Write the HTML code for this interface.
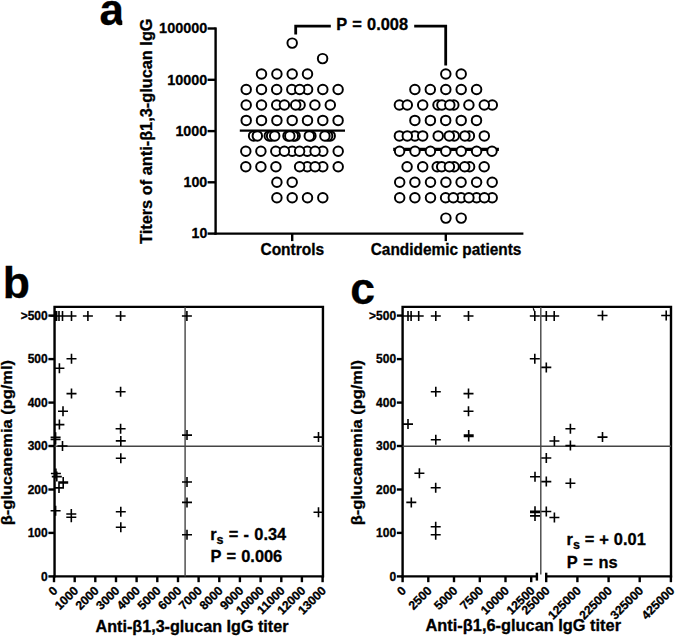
<!DOCTYPE html>
<html><head><meta charset="utf-8"><title>Figure</title>
<style>
html,body{margin:0;padding:0;background:#fff;}
body{width:675px;height:637px;overflow:hidden;}
svg{display:block;}
text{font-family:"Liberation Sans",sans-serif;font-weight:bold;fill:#000;stroke:#000;stroke-width:0.3px;}
</style></head><body>
<svg width="675" height="637" viewBox="0 0 675 637">
<rect width="675" height="637" fill="#fff"/>
<!-- panel a -->
<text x="99.5" y="25" font-size="44" stroke="none">a</text>
<rect x="122.3" y="14" width="5" height="13" fill="#fff"/>
<g stroke="#000" stroke-width="2.4" fill="none" stroke-linecap="butt">
<path d="M215.6 27.4 V234.7"/>
<path d="M214.5 233.6 H523.4"/>
<path d="M207.6 233.6 H215.6"/>
<path d="M207.6 182.3 H215.6"/>
<path d="M207.6 131.1 H215.6"/>
<path d="M207.6 79.8 H215.6"/>
<path d="M207.6 28.5 H215.6"/>
<path d="M292.2 233.6 V241.1"/>
<path d="M445.8 233.6 V241.1"/>
</g>
<text x="207.3" y="238.3" font-size="15.4" text-anchor="end" textLength="15.7" lengthAdjust="spacingAndGlyphs">10</text>
<text x="207.3" y="187.0" font-size="15.4" text-anchor="end" textLength="23.8" lengthAdjust="spacingAndGlyphs">100</text>
<text x="207.3" y="135.8" font-size="15.4" text-anchor="end" textLength="31.9" lengthAdjust="spacingAndGlyphs">1000</text>
<text x="207.3" y="84.5" font-size="15.4" text-anchor="end" textLength="40.1" lengthAdjust="spacingAndGlyphs">10000</text>
<text x="207.3" y="33.2" font-size="15.4" text-anchor="end" textLength="48.2" lengthAdjust="spacingAndGlyphs">100000</text>
<text transform="translate(152.2 131.2) rotate(-90)" font-size="16" text-anchor="middle" textLength="225.5" lengthAdjust="spacingAndGlyphs">Titers of anti-β1,3-glucan IgG</text>
<text x="292.35" y="254.7" font-size="15.7" text-anchor="middle" textLength="63.8" lengthAdjust="spacingAndGlyphs">Controls</text>
<text x="446.05" y="254.7" font-size="15.7" text-anchor="middle" textLength="150.6" lengthAdjust="spacingAndGlyphs">Candidemic patients</text>
<g stroke="#000" stroke-width="2.8" fill="none">
<path d="M295.7 34.6 V26.15 H330.8"/>
<path d="M414.2 26.2 H445.7 V65.5"/>
</g>
<text x="372.2" y="30.1" font-size="16.4" text-anchor="middle" word-spacing="0.7">P = 0.008</text>
<g stroke="#000">
<path d="M239.8 130.55 H345" stroke-width="2.3"/>
<path d="M393.2 149.4 H498.9" stroke-width="3.1"/>
</g>
<g stroke="#000" stroke-width="1.95" fill="#fff">
<circle cx="292.2" cy="43.1" r="4.75"/>
<circle cx="322.6" cy="58.6" r="4.75"/>
<circle cx="261.5" cy="74.0" r="4.75"/><circle cx="276.9" cy="74.0" r="4.75"/><circle cx="292.2" cy="74.0" r="4.75"/><circle cx="307.5" cy="74.0" r="4.75"/>
<circle cx="246.2" cy="89.5" r="4.75"/><circle cx="261.5" cy="89.5" r="4.75"/><circle cx="276.7" cy="89.5" r="4.75"/><circle cx="291.8" cy="89.5" r="4.75"/><circle cx="307.6" cy="89.5" r="4.75"/><circle cx="322.8" cy="89.5" r="4.75"/><circle cx="338.1" cy="89.5" r="4.75"/><circle cx="299.7" cy="89.5" r="4.75"/>
<circle cx="246.2" cy="105.0" r="4.75"/><circle cx="261.5" cy="105.0" r="4.75"/><circle cx="276.7" cy="105.0" r="4.75"/><circle cx="300.1" cy="105.0" r="4.75"/><circle cx="314.9" cy="105.0" r="4.75"/><circle cx="330.3" cy="105.0" r="4.75"/><circle cx="284.4" cy="105.0" r="4.75"/><circle cx="295.7" cy="105.0" r="4.75"/>
<circle cx="246.2" cy="120.4" r="4.75"/><circle cx="261.5" cy="120.4" r="4.75"/><circle cx="276.9" cy="120.4" r="4.75"/><circle cx="292.2" cy="120.4" r="4.75"/><circle cx="307.5" cy="120.4" r="4.75"/><circle cx="322.8" cy="120.4" r="4.75"/><circle cx="338.1" cy="120.4" r="4.75"/>
<circle cx="253.6" cy="135.9" r="4.75"/><circle cx="269.3" cy="135.9" r="4.75"/><circle cx="288.0" cy="135.9" r="4.75"/><circle cx="295.1" cy="135.9" r="4.75"/><circle cx="310.9" cy="135.9" r="4.75"/><circle cx="330.2" cy="135.9" r="4.75"/><circle cx="271.6" cy="135.9" r="4.75"/><circle cx="293.3" cy="135.9" r="4.75"/><circle cx="327.6" cy="135.9" r="4.75"/><circle cx="257.3" cy="135.9" r="4.75"/><circle cx="274.7" cy="135.9" r="4.75"/><circle cx="289.8" cy="135.9" r="4.75"/><circle cx="309.3" cy="135.9" r="4.75"/><circle cx="324.9" cy="135.9" r="4.75"/>
<circle cx="245.8" cy="151.3" r="4.75"/><circle cx="260.9" cy="151.3" r="4.75"/><circle cx="275.8" cy="151.3" r="4.75"/><circle cx="292.2" cy="151.3" r="4.75"/><circle cx="307.3" cy="151.3" r="4.75"/><circle cx="322.8" cy="151.3" r="4.75"/><circle cx="338.2" cy="151.3" r="4.75"/><circle cx="284.4" cy="151.3" r="4.75"/><circle cx="299.6" cy="151.3" r="4.75"/><circle cx="315.1" cy="151.3" r="4.75"/>
<circle cx="245.8" cy="166.8" r="4.75"/><circle cx="260.9" cy="166.8" r="4.75"/><circle cx="275.9" cy="166.8" r="4.75"/><circle cx="307.3" cy="166.8" r="4.75"/><circle cx="322.8" cy="166.8" r="4.75"/><circle cx="338.2" cy="166.8" r="4.75"/><circle cx="299.6" cy="166.8" r="4.75"/><circle cx="315.1" cy="166.8" r="4.75"/>
<circle cx="276.9" cy="182.2" r="4.75"/><circle cx="292.2" cy="182.2" r="4.75"/>
<circle cx="276.9" cy="197.7" r="4.75"/><circle cx="292.2" cy="197.7" r="4.75"/><circle cx="307.5" cy="197.7" r="4.75"/><circle cx="322.8" cy="197.7" r="4.75"/>
<circle cx="445.8" cy="74.0" r="4.75"/><circle cx="461.2" cy="74.0" r="4.75"/>
<circle cx="414.9" cy="89.5" r="4.75"/><circle cx="430.3" cy="89.5" r="4.75"/><circle cx="445.8" cy="89.5" r="4.75"/><circle cx="461.2" cy="89.5" r="4.75"/><circle cx="476.6" cy="89.5" r="4.75"/>
<circle cx="399.4" cy="105.0" r="4.75"/><circle cx="422.7" cy="105.0" r="4.75"/><circle cx="438.0" cy="105.0" r="4.75"/><circle cx="453.8" cy="105.0" r="4.75"/><circle cx="468.9" cy="105.0" r="4.75"/><circle cx="492.3" cy="105.0" r="4.75"/><circle cx="407.3" cy="105.0" r="4.75"/><circle cx="441.9" cy="105.0" r="4.75"/><circle cx="484.3" cy="105.0" r="4.75"/><circle cx="449.8" cy="105.0" r="4.75"/>
<circle cx="414.9" cy="120.4" r="4.75"/><circle cx="430.4" cy="120.4" r="4.75"/><circle cx="445.7" cy="120.4" r="4.75"/><circle cx="461.2" cy="120.4" r="4.75"/><circle cx="476.5" cy="120.4" r="4.75"/>
<circle cx="399.4" cy="135.9" r="4.75"/><circle cx="414.9" cy="135.9" r="4.75"/><circle cx="438.2" cy="135.9" r="4.75"/><circle cx="454.2" cy="135.9" r="4.75"/><circle cx="469.4" cy="135.9" r="4.75"/><circle cx="484.3" cy="135.9" r="4.75"/><circle cx="407.3" cy="135.9" r="4.75"/><circle cx="422.7" cy="135.9" r="4.75"/><circle cx="449.3" cy="135.9" r="4.75"/><circle cx="464.9" cy="135.9" r="4.75"/>
<circle cx="399.6" cy="151.3" r="4.75"/><circle cx="415.0" cy="151.3" r="4.75"/><circle cx="430.4" cy="151.3" r="4.75"/><circle cx="445.8" cy="151.3" r="4.75"/><circle cx="461.2" cy="151.3" r="4.75"/><circle cx="476.6" cy="151.3" r="4.75"/><circle cx="492.0" cy="151.3" r="4.75"/>
<circle cx="407.1" cy="166.8" r="4.75"/><circle cx="422.7" cy="166.8" r="4.75"/><circle cx="437.2" cy="166.8" r="4.75"/><circle cx="454.1" cy="166.8" r="4.75"/><circle cx="469.6" cy="166.8" r="4.75"/><circle cx="484.2" cy="166.8" r="4.75"/><circle cx="441.7" cy="166.8" r="4.75"/><circle cx="449.4" cy="166.8" r="4.75"/><circle cx="464.7" cy="166.8" r="4.75"/>
<circle cx="399.7" cy="182.2" r="4.75"/><circle cx="414.9" cy="182.2" r="4.75"/><circle cx="430.5" cy="182.2" r="4.75"/><circle cx="445.9" cy="182.2" r="4.75"/><circle cx="461.1" cy="182.2" r="4.75"/><circle cx="476.6" cy="182.2" r="4.75"/><circle cx="492.2" cy="182.2" r="4.75"/>
<circle cx="399.7" cy="197.7" r="4.75"/><circle cx="414.9" cy="197.7" r="4.75"/><circle cx="430.5" cy="197.7" r="4.75"/><circle cx="445.6" cy="197.7" r="4.75"/><circle cx="461.1" cy="197.7" r="4.75"/><circle cx="476.6" cy="197.7" r="4.75"/><circle cx="492.2" cy="197.7" r="4.75"/><circle cx="453.3" cy="197.7" r="4.75"/><circle cx="468.9" cy="197.7" r="4.75"/><circle cx="484.4" cy="197.7" r="4.75"/>
<circle cx="445.9" cy="218.1" r="4.75"/><circle cx="461.2" cy="218.1" r="4.75"/>
</g>
<!-- panel b -->
<text x="2.8" y="297.8" font-size="44.5" stroke="none">b</text>
<g stroke="#000" stroke-width="2.4" fill="none">
<path d="M48.40 576.4 H54.55"/>
<path d="M48.40 532.9 H54.55"/>
<path d="M48.40 489.5 H54.55"/>
<path d="M48.40 446.0 H54.55"/>
<path d="M48.40 402.6 H54.55"/>
<path d="M48.40 359.1 H54.55"/>
<path d="M48.40 315.6 H54.55"/>
</g>
<text x="47.70" y="580.6" font-size="12" text-anchor="end">0</text>
<text x="47.70" y="537.1" font-size="12" text-anchor="end">100</text>
<text x="47.70" y="493.7" font-size="12" text-anchor="end">200</text>
<text x="47.70" y="450.2" font-size="12" text-anchor="end">300</text>
<text x="47.70" y="406.8" font-size="12" text-anchor="end">400</text>
<text x="47.70" y="363.3" font-size="12" text-anchor="end">500</text>
<text x="47.70" y="319.8" font-size="12" text-anchor="end">&gt;500</text>
<text transform="translate(12.4 442.7) rotate(-90)" font-size="15.2" text-anchor="middle" textLength="165.3" lengthAdjust="spacingAndGlyphs">β-glucanemia (pg/ml)</text>
<g stroke="#000" stroke-width="2.4" fill="none">
<path d="M54.55 577.5 V306.9 H322.95 V577.5"/>
<path d="M53.449999999999996 576.4 H324.05"/>
<path d="M54.0 576.4 V582.1999999999999"/>
<path d="M74.7 576.4 V582.1999999999999"/>
<path d="M95.3 576.4 V582.1999999999999"/>
<path d="M116.0 576.4 V582.1999999999999"/>
<path d="M136.6 576.4 V582.1999999999999"/>
<path d="M157.3 576.4 V582.1999999999999"/>
<path d="M178.0 576.4 V582.1999999999999"/>
<path d="M198.6 576.4 V582.1999999999999"/>
<path d="M219.3 576.4 V582.1999999999999"/>
<path d="M239.9 576.4 V582.1999999999999"/>
<path d="M260.6 576.4 V582.1999999999999"/>
<path d="M281.3 576.4 V582.1999999999999"/>
<path d="M301.9 576.4 V582.1999999999999"/>
<path d="M322.6 576.4 V582.1999999999999"/>
</g>
<g stroke="#444" stroke-width="1.4" fill="none"><path d="M54.55 446.3 H322.95"/><path d="M185.1 306.9 V576.4"/></g>
<text transform="translate(58.3 591.4) rotate(-45)" font-size="12.2" text-anchor="end">0</text>
<text transform="translate(79.0 591.4) rotate(-45)" font-size="12.2" text-anchor="end">1000</text>
<text transform="translate(99.6 591.4) rotate(-45)" font-size="12.2" text-anchor="end">2000</text>
<text transform="translate(120.3 591.4) rotate(-45)" font-size="12.2" text-anchor="end">3000</text>
<text transform="translate(140.9 591.4) rotate(-45)" font-size="12.2" text-anchor="end">4000</text>
<text transform="translate(161.6 591.4) rotate(-45)" font-size="12.2" text-anchor="end">5000</text>
<text transform="translate(182.3 591.4) rotate(-45)" font-size="12.2" text-anchor="end">6000</text>
<text transform="translate(202.9 591.4) rotate(-45)" font-size="12.2" text-anchor="end">7000</text>
<text transform="translate(223.6 591.4) rotate(-45)" font-size="12.2" text-anchor="end">8000</text>
<text transform="translate(244.2 591.4) rotate(-45)" font-size="12.2" text-anchor="end">9000</text>
<text transform="translate(264.9 591.4) rotate(-45)" font-size="12.2" text-anchor="end">10000</text>
<text transform="translate(285.6 591.4) rotate(-45)" font-size="12.2" text-anchor="end">11000</text>
<text transform="translate(306.2 591.4) rotate(-45)" font-size="12.2" text-anchor="end">12000</text>
<text transform="translate(326.9 591.4) rotate(-45)" font-size="12.2" text-anchor="end">13000</text>
<text x="192" y="632.2" font-size="15.6" text-anchor="middle" textLength="193" lengthAdjust="spacingAndGlyphs">Anti-β1,3-glucan IgG titer</text>
<text x="210.2" y="539.7" font-size="16.4" word-spacing="0.7">r<tspan font-size="12.5" dy="3.8">s</tspan><tspan dy="-3.8"> = - 0.34</tspan></text>
<text x="210.5" y="561.8" font-size="16.4" word-spacing="0.7">P = 0.006</text>
<g stroke="#000" stroke-width="1.6" fill="none"><path d="M50.4 316.0H60.4M55.4 311.0V321.0M51.6 316.0H61.6M56.6 311.0V321.0M54.0 316.0H64.0M59.0 311.0V321.0M57.5 316.0H67.5M62.5 311.0V321.0M66.5 316.0H76.5M71.5 311.0V321.0M82.9 316.0H92.9M87.9 311.0V321.0M115.6 316.0H125.6M120.6 311.0V321.0M181.9 316.0H191.9M186.9 311.0V321.0M66.5 358.8H76.5M71.5 353.8V363.8M54.4 368.2H64.4M59.4 363.2V373.2M66.5 393.6H76.5M71.5 388.6V398.6M115.6 391.7H125.6M120.6 386.7V396.7M58.0 411.3H68.0M63.0 406.3V416.3M54.4 424.6H64.4M59.4 419.6V429.6M115.6 428.7H125.6M120.6 423.7V433.7M50.6 437.3H60.6M55.6 432.3V442.3M50.6 439.4H60.6M55.6 434.4V444.4M57.5 446.0H67.5M62.5 441.0V451.0M115.8 440.9H125.8M120.8 435.9V445.9M115.8 458.2H125.8M120.8 453.2V463.2M182.0 435.1H192.0M187.0 430.1V440.1M50.9 473.5H60.9M55.9 468.5V478.5M51.8 476.6H61.8M56.8 471.6V481.6M58.2 482.1H68.2M63.2 477.1V487.1M58.2 483.0H68.2M63.2 478.0V488.0M54.0 487.9H64.0M59.0 482.9V492.9M182.0 482.0H192.0M187.0 477.0V487.0M182.0 502.4H192.0M187.0 497.4V507.4M182.0 534.8H192.0M187.0 529.8V539.8M50.6 510.8H60.6M55.6 505.8V515.8M66.3 514.0H76.3M71.3 509.0V519.0M66.3 517.2H76.3M71.3 512.2V522.2M115.8 511.7H125.8M120.8 506.7V516.7M115.8 527.3H125.8M120.8 522.3V532.3M313.5 437.1H323.5M318.5 432.1V442.1M313.5 512.2H323.5M318.5 507.2V517.2"/></g>
<!-- panel c -->
<text x="350.3" y="303.6" font-size="44.5" stroke="none">c</text>
<g stroke="#000" stroke-width="2.4" fill="none">
<path d="M396.90 576.4 H402.6"/>
<path d="M396.90 532.9 H402.6"/>
<path d="M396.90 489.5 H402.6"/>
<path d="M396.90 446.0 H402.6"/>
<path d="M396.90 402.6 H402.6"/>
<path d="M396.90 359.1 H402.6"/>
<path d="M396.90 315.6 H402.6"/>
</g>
<text x="396.10" y="580.6" font-size="12" text-anchor="end">0</text>
<text x="396.10" y="537.1" font-size="12" text-anchor="end">100</text>
<text x="396.10" y="493.7" font-size="12" text-anchor="end">200</text>
<text x="396.10" y="450.2" font-size="12" text-anchor="end">300</text>
<text x="396.10" y="406.8" font-size="12" text-anchor="end">400</text>
<text x="396.10" y="363.3" font-size="12" text-anchor="end">500</text>
<text x="396.10" y="319.8" font-size="12" text-anchor="end">&gt;500</text>
<text transform="translate(362.3 442.7) rotate(-90)" font-size="15.2" text-anchor="middle" textLength="165.3" lengthAdjust="spacingAndGlyphs">β-glucanemia (pg/ml)</text>
<g stroke="#000" stroke-width="2.4" fill="none">
<path d="M402.6 577.5 V306.9 H671 V577.5"/>
<path d="M401.5 576.4 H536.9"/><path d="M546.2 576.4 H672.1"/>
<path d="M536.9 572.6999999999999 V580.6"/><path d="M546.2 572.6999999999999 V582.1999999999999"/>
<path d="M402.6 576.4 V582.1999999999999"/>
<path d="M428.3 576.4 V582.1999999999999"/>
<path d="M454.0 576.4 V582.1999999999999"/>
<path d="M479.8 576.4 V582.1999999999999"/>
<path d="M505.5 576.4 V582.1999999999999"/>
<path d="M531.2 576.4 V582.1999999999999"/>
<path d="M577.4 576.4 V582.1999999999999"/>
<path d="M608.6 576.4 V582.1999999999999"/>
<path d="M639.7 576.4 V582.1999999999999"/>
<path d="M670.9 576.4 V582.1999999999999"/>
</g>
<g stroke="#444" stroke-width="1.4" fill="none"><path d="M402.6 446.2 H671"/><path d="M540.8 306.9 V574.5"/></g>
<text transform="translate(406.9 591.4) rotate(-45)" font-size="12.2" text-anchor="end">0</text>
<text transform="translate(432.6 591.4) rotate(-45)" font-size="12.2" text-anchor="end">2500</text>
<text transform="translate(458.3 591.4) rotate(-45)" font-size="12.2" text-anchor="end">5000</text>
<text transform="translate(484.1 591.4) rotate(-45)" font-size="12.2" text-anchor="end">7500</text>
<text transform="translate(509.8 591.4) rotate(-45)" font-size="12.2" text-anchor="end">10000</text>
<text transform="translate(535.5 591.4) rotate(-45)" font-size="12.2" text-anchor="end">12500</text>
<text transform="translate(550.5 591.4) rotate(-45)" font-size="12.2" text-anchor="end">25000</text>
<text transform="translate(581.7 591.4) rotate(-45)" font-size="12.2" text-anchor="end">125000</text>
<text transform="translate(612.9 591.4) rotate(-45)" font-size="12.2" text-anchor="end">225000</text>
<text transform="translate(644.0 591.4) rotate(-45)" font-size="12.2" text-anchor="end">325000</text>
<text transform="translate(675.2 591.4) rotate(-45)" font-size="12.2" text-anchor="end">425000</text>
<text x="523.3" y="631.3" font-size="15.6" text-anchor="middle" textLength="195.5" lengthAdjust="spacingAndGlyphs">Anti-β1,6-glucan IgG titer</text>
<text x="566.5" y="545.3" font-size="16.4" word-spacing="0.4">r<tspan font-size="12.5" dy="3.8">s</tspan><tspan dy="-3.8"> = + 0.01</tspan></text>
<text x="566.7" y="567.6" font-size="16.4" word-spacing="1.3">P = ns</text>
<g stroke="#000" stroke-width="1.6" fill="none"><path d="M403.0 316.0H413.0M408.0 311.0V321.0M406.1 316.0H416.1M411.1 311.0V321.0M413.7 316.0H423.7M418.7 311.0V321.0M430.8 316.0H440.8M435.8 311.0V321.0M463.5 316.0H473.5M468.5 311.0V321.0M529.8 316.0H539.8M534.8 311.0V321.0M541.3 316.0H551.3M546.3 311.0V321.0M549.2 316.0H559.2M554.2 311.0V321.0M597.5 315.5H607.5M602.5 310.5V320.5M661.2 315.5H671.2M666.2 310.5V320.5M529.8 358.8H539.8M534.8 353.8V363.8M541.3 367.4H551.3M546.3 362.4V372.4M430.8 391.7H440.8M435.8 386.7V396.7M463.5 393.6H473.5M468.5 388.6V398.6M463.5 411.3H473.5M468.5 406.3V416.3M403.0 424.1H413.0M408.0 419.1V429.1M430.8 439.7H440.8M435.8 434.7V444.7M463.7 435.1H473.7M468.7 430.1V440.1M463.7 436.4H473.7M468.7 431.4V441.4M414.4 473.3H424.4M419.4 468.3V478.3M430.7 487.8H440.7M435.7 482.8V492.8M406.3 502.4H416.3M411.3 497.4V507.4M430.7 526.8H440.7M435.7 521.8V531.8M430.7 534.8H440.7M435.7 529.8V539.8M530.0 476.7H540.0M535.0 471.7V481.7M530.0 511.2H540.0M535.0 506.2V516.2M530.0 512.4H540.0M535.0 507.4V517.4M530.0 515.9H540.0M535.0 510.9V520.9M541.3 458.0H551.3M546.3 453.0V463.0M541.3 481.6H551.3M546.3 476.6V486.6M541.3 511.5H551.3M546.3 506.5V516.5M549.4 441.0H559.4M554.4 436.0V446.0M549.4 517.5H559.4M554.4 512.5V522.5M565.4 428.7H575.4M570.4 423.7V433.7M565.4 445.6H575.4M570.4 440.6V450.6M597.5 437.1H607.5M602.5 432.1V442.1M565.4 483.2H575.4M570.4 478.2V488.2"/></g>
<path d="M533.2 308.2 L534.3 311" stroke="#000" stroke-width="1.3" fill="none"/>
</svg>
</body></html>
